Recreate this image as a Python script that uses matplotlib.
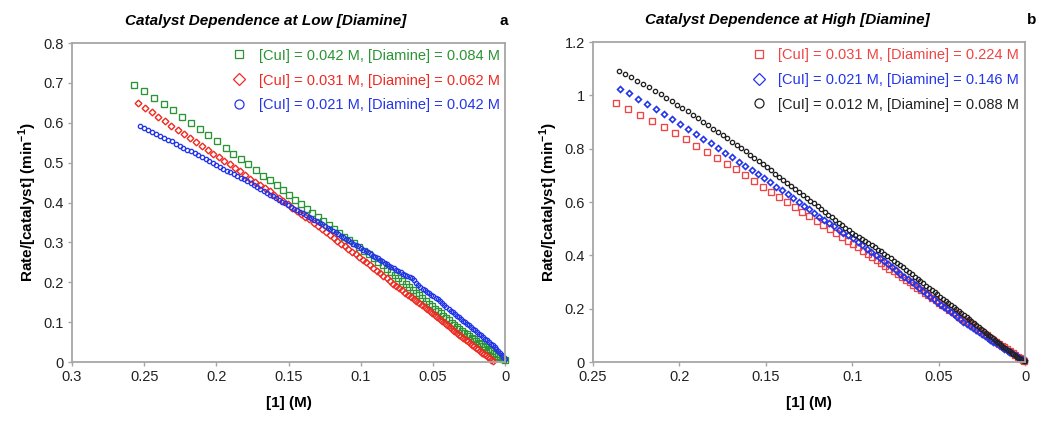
import matplotlib
matplotlib.use("Agg")
import matplotlib.pyplot as plt
from matplotlib.lines import Line2D
from matplotlib.ticker import FuncFormatter, MultipleLocator

plt.rcParams['font.family'] = ['Liberation Sans', 'DejaVu Sans']

# ---------------- panel a : low [Diamine] ----------------
a_green_x = [0.2572, 0.2498, 0.2432, 0.2362, 0.2300, 0.2238, 0.2175, 0.2113, 0.2058, 0.1995,
             0.1935, 0.1882, 0.1829, 0.1778, 0.1727, 0.1678, 0.1630, 0.1582, 0.1540, 0.1498,
             0.1455, 0.1415, 0.1374, 0.1335, 0.1297, 0.1259, 0.1222, 0.1184, 0.1150, 0.1115,
             0.1080, 0.1046, 0.1011, 0.0975, 0.0942, 0.0910, 0.0879, 0.0849, 0.0820, 0.0792,
             0.0765, 0.0739, 0.0713, 0.0688, 0.0664, 0.0640, 0.0617, 0.0594, 0.0572, 0.0550,
             0.0529, 0.0508, 0.0487, 0.0467, 0.0447, 0.0427, 0.0408, 0.0389, 0.0370, 0.0352,
             0.0334, 0.0316, 0.0298, 0.0281, 0.0264, 0.0247, 0.0230, 0.0214, 0.0198, 0.0182,
             0.0166, 0.0151, 0.0136, 0.0121, 0.0106, 0.0092, 0.0078, 0.0064, 0.0050, 0.0037,
             0.0024, 0.0012, 0.0002]
a_green_y = [0.695, 0.680, 0.663, 0.646, 0.631, 0.614, 0.599, 0.584, 0.569, 0.554,
             0.538, 0.523, 0.509, 0.496, 0.482, 0.467, 0.456, 0.444, 0.431, 0.420,
             0.407, 0.396, 0.385, 0.374, 0.364, 0.354, 0.344, 0.334, 0.323, 0.314,
             0.306, 0.298, 0.289, 0.279, 0.270, 0.261, 0.252, 0.243, 0.234, 0.226,
             0.218, 0.211, 0.203, 0.196, 0.188, 0.181, 0.174, 0.167, 0.160, 0.153,
             0.146, 0.140, 0.134, 0.128, 0.122, 0.116, 0.110, 0.105, 0.099, 0.094,
             0.089, 0.084, 0.079, 0.074, 0.070, 0.065, 0.061, 0.057, 0.053, 0.049,
             0.045, 0.041, 0.037, 0.034, 0.030, 0.027, 0.023, 0.020, 0.016, 0.013,
             0.010, 0.007, 0.005]

a_red_x = [0.2543, 0.2495, 0.2448, 0.2402, 0.2357, 0.2312, 0.2268, 0.2225, 0.2183, 0.2142,
           0.2101, 0.2061, 0.2022, 0.1983, 0.1945, 0.1908, 0.1871, 0.1835, 0.1800, 0.1765,
           0.1731, 0.1697, 0.1664, 0.1631, 0.1599, 0.1567, 0.1535, 0.1504, 0.1473, 0.1443,
           0.1413, 0.1384, 0.1355, 0.1326, 0.1298, 0.1270, 0.1242, 0.1215, 0.1188, 0.1162,
           0.1136, 0.1110, 0.1085, 0.1060, 0.1035, 0.1010, 0.0985, 0.0960, 0.0936, 0.0912,
           0.0889, 0.0866, 0.0843, 0.0821, 0.0799, 0.0777, 0.0756, 0.0735, 0.0714, 0.0694,
           0.0674, 0.0654, 0.0634, 0.0615, 0.0596, 0.0577, 0.0558, 0.0540, 0.0522, 0.0504,
           0.0486, 0.0468, 0.0451, 0.0434, 0.0417, 0.0400, 0.0383, 0.0367, 0.0351, 0.0335,
           0.0319, 0.0303, 0.0288, 0.0273, 0.0258, 0.0243, 0.0228, 0.0214, 0.0200, 0.0186,
           0.0172, 0.0158, 0.0145, 0.0132, 0.0119, 0.0106, 0.0094, 0.0082]
a_red_y = [0.649, 0.638, 0.627, 0.615, 0.604, 0.593, 0.582, 0.571, 0.561, 0.551,
           0.541, 0.532, 0.523, 0.514, 0.505, 0.496, 0.487, 0.478, 0.469, 0.460,
           0.452, 0.444, 0.436, 0.428, 0.420, 0.412, 0.404, 0.396, 0.387, 0.380,
           0.372, 0.365, 0.358, 0.350, 0.342, 0.334, 0.326, 0.318, 0.311, 0.304,
           0.297, 0.290, 0.283, 0.276, 0.270, 0.263, 0.257, 0.250, 0.243, 0.236,
           0.229, 0.223, 0.216, 0.210, 0.204, 0.197, 0.191, 0.185, 0.180, 0.174,
           0.168, 0.163, 0.157, 0.152, 0.147, 0.142, 0.137, 0.132, 0.128, 0.123,
           0.118, 0.113, 0.108, 0.103, 0.098, 0.093, 0.088, 0.083, 0.079, 0.074,
           0.069, 0.065, 0.060, 0.056, 0.052, 0.047, 0.043, 0.040, 0.036, 0.032,
           0.028, 0.024, 0.021, 0.017, 0.013, 0.010, 0.006, 0.003]

a_blue_x = [0.2527, 0.2499, 0.2471, 0.2443, 0.2415, 0.2388, 0.2361, 0.2334, 0.2307, 0.2280,
            0.2254, 0.2228, 0.2202, 0.2176, 0.2150, 0.2125, 0.2100, 0.2075, 0.2050, 0.2025,
            0.2000, 0.1975, 0.1951, 0.1927, 0.1903, 0.1879, 0.1855, 0.1832, 0.1809, 0.1786,
            0.1763, 0.1740, 0.1717, 0.1695, 0.1673, 0.1651, 0.1629, 0.1607, 0.1586, 0.1565,
            0.1544, 0.1523, 0.1502, 0.1481, 0.1461, 0.1441, 0.1421, 0.1401, 0.1381, 0.1361,
            0.1342, 0.1323, 0.1304, 0.1285, 0.1266, 0.1247, 0.1228, 0.1210, 0.1192, 0.1174,
            0.1156, 0.1138, 0.1120, 0.1102, 0.1085, 0.1068, 0.1051, 0.1034, 0.1017, 0.1000,
            0.0983, 0.0966, 0.0949, 0.0932, 0.0915, 0.0899, 0.0883, 0.0867, 0.0851, 0.0835,
            0.0819, 0.0803, 0.0787, 0.0771, 0.0755, 0.0739, 0.0723, 0.0707, 0.0691, 0.0676,
            0.0661, 0.0646, 0.0631, 0.0616, 0.0601, 0.0586, 0.0571, 0.0556, 0.0541, 0.0526,
            0.0511, 0.0496, 0.0481, 0.0466, 0.0451, 0.0436, 0.0421, 0.0406, 0.0391, 0.0376,
            0.0361, 0.0346, 0.0332, 0.0318, 0.0304, 0.0290, 0.0276, 0.0262, 0.0248, 0.0234,
            0.0220, 0.0206, 0.0192, 0.0178, 0.0164, 0.0150, 0.0137, 0.0124, 0.0111, 0.0098,
            0.0085, 0.0072, 0.0060, 0.0048, 0.0036, 0.0024, 0.0013, 0.0003]
a_blue_y = [0.592, 0.587, 0.582, 0.577, 0.572, 0.567, 0.563, 0.558, 0.554, 0.548,
            0.543, 0.538, 0.533, 0.529, 0.524, 0.519, 0.514, 0.509, 0.504, 0.499,
            0.494, 0.489, 0.485, 0.480, 0.476, 0.471, 0.467, 0.462, 0.458, 0.453,
            0.448, 0.444, 0.439, 0.434, 0.429, 0.425, 0.420, 0.416, 0.411, 0.407,
            0.402, 0.398, 0.393, 0.389, 0.385, 0.381, 0.377, 0.373, 0.369, 0.365,
            0.361, 0.357, 0.353, 0.349, 0.345, 0.341, 0.337, 0.333, 0.329, 0.325,
            0.321, 0.317, 0.313, 0.309, 0.305, 0.301, 0.297, 0.294, 0.290, 0.286,
            0.282, 0.279, 0.275, 0.271, 0.267, 0.263, 0.260, 0.256, 0.253, 0.249,
            0.246, 0.242, 0.238, 0.235, 0.231, 0.228, 0.225, 0.222, 0.219, 0.216,
            0.213, 0.210, 0.205, 0.199, 0.193, 0.188, 0.184, 0.180, 0.176, 0.172,
            0.168, 0.165, 0.161, 0.157, 0.152, 0.148, 0.143, 0.139, 0.134, 0.129,
            0.125, 0.120, 0.116, 0.112, 0.108, 0.104, 0.100, 0.096, 0.092, 0.088,
            0.084, 0.080, 0.076, 0.071, 0.067, 0.063, 0.059, 0.055, 0.051, 0.046,
            0.042, 0.037, 0.033, 0.028, 0.024, 0.019, 0.014, 0.009]

# ---------------- panel b : high [Diamine] ----------------
b_red_x = [0.2367, 0.2297, 0.2228, 0.2159, 0.2091, 0.2025, 0.1962, 0.1902, 0.1842, 0.1784,
           0.1726, 0.1672, 0.1620, 0.1568, 0.1518, 0.1470, 0.1424, 0.1377, 0.1331, 0.1289,
           0.1248, 0.1205, 0.1167, 0.1128, 0.1092, 0.1057, 0.1023, 0.0994, 0.0965, 0.0938,
           0.0911, 0.0885, 0.0859, 0.0834, 0.0809, 0.0785, 0.0761, 0.0737, 0.0714, 0.0691,
           0.0668, 0.0646, 0.0624, 0.0602, 0.0581, 0.0560, 0.0539, 0.0518, 0.0498, 0.0478,
           0.0458, 0.0438, 0.0419, 0.0400, 0.0381, 0.0362, 0.0343, 0.0325, 0.0307, 0.0289,
           0.0271, 0.0253, 0.0236, 0.0219, 0.0202, 0.0185, 0.0168, 0.0151, 0.0135, 0.0119,
           0.0103, 0.0087, 0.0072, 0.0057, 0.0042, 0.0028, 0.0014, 0.0003]
b_red_y = [0.972, 0.950, 0.927, 0.906, 0.882, 0.860, 0.835, 0.812, 0.788, 0.767,
           0.744, 0.724, 0.701, 0.680, 0.657, 0.637, 0.620, 0.600, 0.582, 0.564,
           0.547, 0.530, 0.515, 0.500, 0.485, 0.470, 0.455, 0.442, 0.430, 0.418,
           0.406, 0.395, 0.383, 0.372, 0.361, 0.351, 0.340, 0.329, 0.319, 0.309,
           0.299, 0.289, 0.279, 0.269, 0.260, 0.250, 0.241, 0.232, 0.223, 0.214,
           0.205, 0.196, 0.188, 0.179, 0.171, 0.163, 0.154, 0.146, 0.138, 0.130,
           0.122, 0.115, 0.107, 0.100, 0.092, 0.084, 0.077, 0.069, 0.062, 0.055,
           0.048, 0.041, 0.034, 0.027, 0.021, 0.015, 0.009, 0.005]

b_blue_x = [0.2344, 0.2292, 0.2240, 0.2189, 0.2137, 0.2089, 0.2041, 0.1995, 0.1950, 0.1906,
            0.1862, 0.1819, 0.1777, 0.1736, 0.1696, 0.1657, 0.1619, 0.1582, 0.1545, 0.1510,
            0.1476, 0.1441, 0.1406, 0.1373, 0.1341, 0.1310, 0.1279, 0.1248, 0.1219, 0.1190,
            0.1161, 0.1133, 0.1105, 0.1078, 0.1051, 0.1024, 0.0997, 0.0968, 0.0941, 0.0915,
            0.0889, 0.0864, 0.0839, 0.0815, 0.0791, 0.0767, 0.0744, 0.0721, 0.0698, 0.0676,
            0.0654, 0.0632, 0.0611, 0.0590, 0.0569, 0.0548, 0.0528, 0.0508, 0.0488, 0.0468,
            0.0449, 0.0430, 0.0411, 0.0392, 0.0374, 0.0356, 0.0338, 0.0320, 0.0302, 0.0285,
            0.0268, 0.0251, 0.0234, 0.0217, 0.0200, 0.0184, 0.0168, 0.0152, 0.0136, 0.0120,
            0.0105, 0.0090, 0.0075, 0.0060, 0.0046, 0.0032, 0.0018, 0.0006]
b_blue_y = [1.026, 1.008, 0.988, 0.969, 0.949, 0.930, 0.911, 0.893, 0.874, 0.856,
            0.838, 0.820, 0.803, 0.785, 0.768, 0.751, 0.735, 0.720, 0.704, 0.689,
            0.675, 0.658, 0.644, 0.629, 0.614, 0.599, 0.585, 0.573, 0.560, 0.546,
            0.534, 0.520, 0.509, 0.495, 0.485, 0.476, 0.464, 0.451, 0.438, 0.425,
            0.413, 0.401, 0.390, 0.379, 0.367, 0.355, 0.344, 0.332, 0.321, 0.310,
            0.299, 0.288, 0.277, 0.266, 0.256, 0.245, 0.235, 0.226, 0.216, 0.207,
            0.198, 0.189, 0.180, 0.170, 0.161, 0.152, 0.143, 0.135, 0.127, 0.119,
            0.112, 0.105, 0.097, 0.090, 0.083, 0.077, 0.070, 0.064, 0.057, 0.051,
            0.045, 0.039, 0.033, 0.028, 0.022, 0.017, 0.012, 0.008]

b_black_x = [0.2348, 0.2313, 0.2278, 0.2243, 0.2209, 0.2174, 0.2141, 0.2108, 0.2076, 0.2045,
             0.2014, 0.1983, 0.1952, 0.1921, 0.1892, 0.1863, 0.1834, 0.1806, 0.1777, 0.1750,
             0.1723, 0.1696, 0.1669, 0.1642, 0.1617, 0.1591, 0.1566, 0.1541, 0.1516, 0.1491,
             0.1468, 0.1445, 0.1422, 0.1399, 0.1375, 0.1352, 0.1329, 0.1308, 0.1287, 0.1264,
             0.1242, 0.1221, 0.1200, 0.1179, 0.1158, 0.1138, 0.1117, 0.1098, 0.1078, 0.1059,
             0.1040, 0.1020, 0.1001, 0.0982, 0.0963, 0.0944, 0.0925, 0.0906, 0.0887, 0.0868,
             0.0850, 0.0832, 0.0814, 0.0796, 0.0778, 0.0760, 0.0742, 0.0724, 0.0707, 0.0690,
             0.0673, 0.0656, 0.0639, 0.0622, 0.0605, 0.0588, 0.0571, 0.0555, 0.0539, 0.0523,
             0.0507, 0.0491, 0.0475, 0.0459, 0.0443, 0.0428, 0.0413, 0.0398, 0.0383, 0.0368,
             0.0353, 0.0338, 0.0324, 0.0310, 0.0296, 0.0282, 0.0268, 0.0254, 0.0240, 0.0227,
             0.0214, 0.0201, 0.0188, 0.0175, 0.0162, 0.0149, 0.0137, 0.0125, 0.0113, 0.0101,
             0.0089, 0.0078, 0.0067, 0.0056, 0.0046, 0.0036, 0.0026, 0.0017, 0.0008, 0.0001]
b_black_y = [1.093, 1.080, 1.068, 1.055, 1.043, 1.030, 1.018, 1.004, 0.991, 0.978,
             0.965, 0.953, 0.940, 0.928, 0.915, 0.901, 0.889, 0.876, 0.864, 0.851,
             0.839, 0.826, 0.815, 0.803, 0.790, 0.778, 0.766, 0.754, 0.743, 0.730,
             0.719, 0.706, 0.695, 0.684, 0.673, 0.660, 0.649, 0.638, 0.628, 0.616,
             0.605, 0.595, 0.584, 0.574, 0.563, 0.553, 0.543, 0.533, 0.523, 0.513,
             0.503, 0.494, 0.485, 0.478, 0.470, 0.462, 0.454, 0.446, 0.438, 0.430,
             0.422, 0.415, 0.407, 0.398, 0.390, 0.381, 0.372, 0.363, 0.355, 0.346,
             0.337, 0.329, 0.320, 0.311, 0.303, 0.295, 0.287, 0.279, 0.271, 0.263,
             0.254, 0.246, 0.238, 0.230, 0.222, 0.214, 0.206, 0.198, 0.191, 0.183,
             0.176, 0.168, 0.160, 0.153, 0.146, 0.138, 0.131, 0.124, 0.117, 0.110,
             0.103, 0.097, 0.090, 0.084, 0.077, 0.071, 0.064, 0.058, 0.052, 0.046,
             0.040, 0.035, 0.030, 0.025, 0.020, 0.016, 0.012, 0.009, 0.006, 0.004]

a_labels = ['[CuI] = 0.042 M, [Diamine] = 0.084 M',
            '[CuI] = 0.031 M, [Diamine] = 0.062 M',
            '[CuI] = 0.021 M, [Diamine] = 0.042 M']
b_labels = ['[CuI] = 0.031 M, [Diamine] = 0.224 M',
            '[CuI] = 0.021 M, [Diamine] = 0.146 M',
            '[CuI] = 0.012 M, [Diamine] = 0.088 M']

GREEN = '#2b9434'
RED = '#ee2a22'
RED_B = '#f04444'
BLUE = '#2436ea'
BLACK = '#222222'
GREY = '#a6a6a6'

fig = plt.figure(figsize=(10.5, 4.26), dpi=100)
ax_a = fig.add_axes([0.0686, 0.150, 0.4124, 0.749])
ax_b = fig.add_axes([0.5648, 0.150, 0.4114, 0.751])


def style_axes(ax, xmax, ymax, ystep):
    ax.set_xlim(xmax, 0)
    ax.set_ylim(0, ymax)
    ax.xaxis.set_major_locator(MultipleLocator(0.05))
    ax.yaxis.set_major_locator(MultipleLocator(ystep))
    fmt = FuncFormatter(lambda v, p: '%g' % round(v, 4))
    ax.xaxis.set_major_formatter(fmt)
    ax.yaxis.set_major_formatter(fmt)
    for s in ax.spines.values():
        s.set_color(GREY)
        s.set_linewidth(1.3)
    ax.tick_params(direction='out', length=3, width=1, color=GREY,
                   labelsize=10.5, labelcolor='#222222', pad=3)
    ax.set_xlabel('[1] (M)', fontsize=11, fontweight='bold')
    ax.set_ylabel(r'Rate/[catalyst] (min$^{\mathregular{-1}}$)', fontsize=11, fontweight='bold')
    ax.xaxis.set_label_coords(0.5, -0.105)
    ax.yaxis.set_label_coords(-0.077, 0.5)


def scatter(ax, x, y, marker, color, size, mew):
    ax.plot(x, y, linestyle='none', marker=marker, markersize=size,
            markerfacecolor='none', markeredgecolor=color, markeredgewidth=mew,
            clip_on=False)


def legend(ax, markers, colors, sizes, labels):
    handles = [Line2D([], [], linestyle='none', marker=m, markersize=s,
                      markerfacecolor='none', markeredgecolor=c, markeredgewidth=0.9)
               for m, c, s in zip(markers, colors, sizes)]
    ax.legend(handles, labels, loc='upper right', bbox_to_anchor=(1.0, 1.0),
              frameon=False, fontsize=10.5, labelcolor=colors, handlelength=1.0,
              handletextpad=0.85, labelspacing=0.75, borderaxespad=0.08, borderpad=0.3)


# panel a
style_axes(ax_a, 0.3, 0.8, 0.1)
scatter(ax_a, a_green_x, a_green_y, 's', GREEN, 3.8, 0.95)
scatter(ax_a, a_red_x, a_red_y, 'D', RED, 3.4, 1.0)
scatter(ax_a, a_blue_x, a_blue_y, 'o', BLUE, 3.1, 0.95)
legend(ax_a, ['s', 'D', 'o'], [GREEN, RED, BLUE], [6.0, 6.5, 6.5], a_labels)
ax_a.text(0.448, 1.069, 'Catalyst Dependence at Low [Diamine]', transform=ax_a.transAxes,
          ha='center', va='center', fontsize=11, fontweight='bold', fontstyle='italic')
ax_a.text(1.007, 1.069, 'a', transform=ax_a.transAxes, ha='right', va='center',
          fontsize=11, fontweight='bold')

# panel b
style_axes(ax_b, 0.25, 1.2, 0.2)
scatter(ax_b, b_red_x, b_red_y, 's', RED_B, 3.8, 0.95)
scatter(ax_b, b_blue_x, b_blue_y, 'D', BLUE, 3.0, 1.2)
scatter(ax_b, b_black_x, b_black_y, 'o', BLACK, 3.1, 0.95)
legend(ax_b, ['s', 'D', 'o'], [RED_B, BLUE, BLACK], [6.0, 6.5, 6.5], b_labels)
ax_b.text(0.449, 1.069, 'Catalyst Dependence at High [Diamine]', transform=ax_b.transAxes,
          ha='center', va='center', fontsize=11, fontweight='bold', fontstyle='italic')
ax_b.text(1.016, 1.069, 'b', transform=ax_b.transAxes, ha='center', va='center',
          fontsize=11, fontweight='bold')

fig.savefig('out.png', dpi=100)
